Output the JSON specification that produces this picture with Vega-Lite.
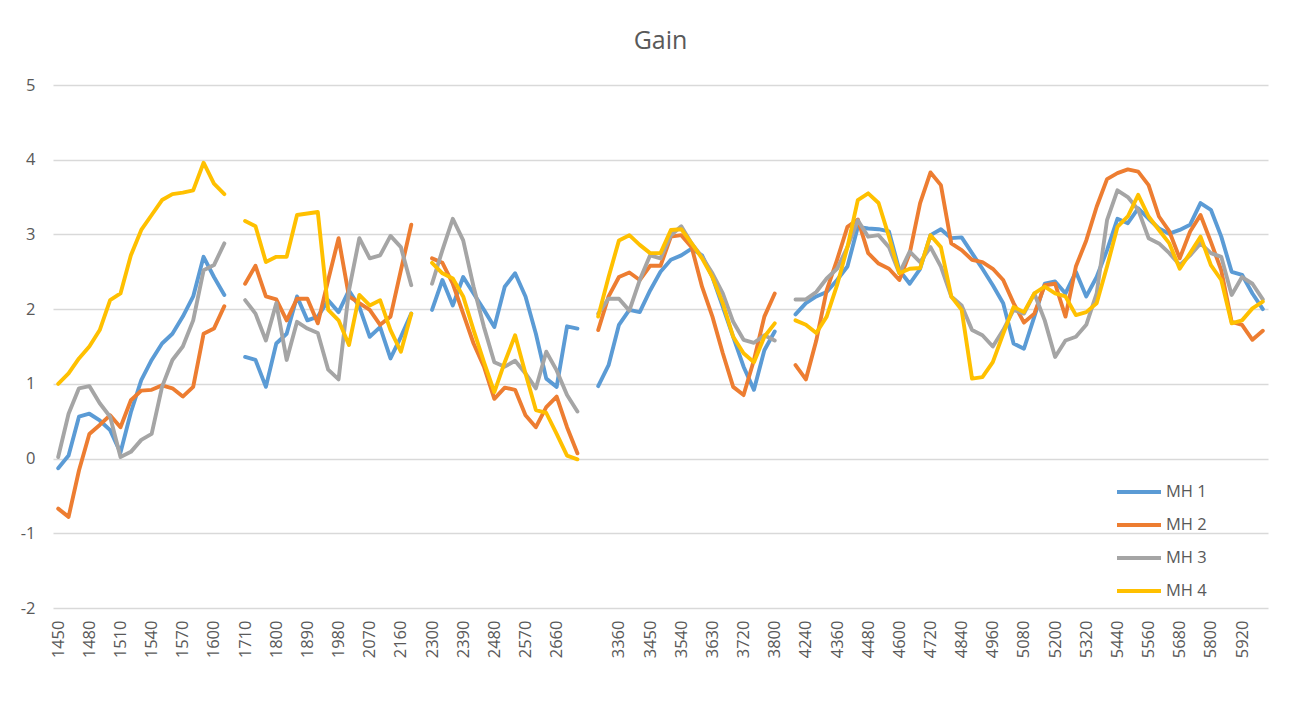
{
  "$schema": "https://vega.github.io/schema/vega-lite/v6.json",
  "width": 1215,
  "height": 523,
  "autosize": {"type": "none"},
  "padding": {"left": 53, "top": 85, "right": 25, "bottom": 114},
  "background": "white",
  "title": {"text": "Gain", "font": "Open Sans", "fontSize": 25, "fontWeight": "normal", "color": "#595959", "anchor": "middle", "frame": "group", "baseline": "alphabetic", "offset": 3},
  "data": {"values": [
    {"f":"1450","MH 1":-0.13,"MH 2":-0.67,"MH 3":0.02,"MH 4":1.00},
    {"f":"1460","MH 1":0.04,"MH 2":-0.78,"MH 3":0.60,"MH 4":1.14},
    {"f":"1470","MH 1":0.56,"MH 2":-0.16,"MH 3":0.94,"MH 4":1.34},
    {"f":"1480","MH 1":0.60,"MH 2":0.33,"MH 3":0.97,"MH 4":1.50},
    {"f":"1490","MH 1":0.51,"MH 2":0.45,"MH 3":0.74,"MH 4":1.72},
    {"f":"1500","MH 1":0.38,"MH 2":0.58,"MH 3":0.56,"MH 4":2.12},
    {"f":"1510","MH 1":0.08,"MH 2":0.42,"MH 3":0.02,"MH 4":2.21},
    {"f":"1520","MH 1":0.62,"MH 2":0.78,"MH 3":0.09,"MH 4":2.72},
    {"f":"1530","MH 1":1.05,"MH 2":0.91,"MH 3":0.25,"MH 4":3.06},
    {"f":"1540","MH 1":1.32,"MH 2":0.92,"MH 3":0.33,"MH 4":3.26},
    {"f":"1550","MH 1":1.54,"MH 2":0.98,"MH 3":0.96,"MH 4":3.46},
    {"f":"1560","MH 1":1.67,"MH 2":0.94,"MH 3":1.32,"MH 4":3.54},
    {"f":"1570","MH 1":1.90,"MH 2":0.83,"MH 3":1.50,"MH 4":3.56},
    {"f":"1580","MH 1":2.17,"MH 2":0.96,"MH 3":1.85,"MH 4":3.59},
    {"f":"1590","MH 1":2.70,"MH 2":1.67,"MH 3":2.52,"MH 4":3.96},
    {"f":"1600","MH 1":2.43,"MH 2":1.74,"MH 3":2.59,"MH 4":3.68},
    {"f":"1610","MH 1":2.19,"MH 2":2.04,"MH 3":2.88,"MH 4":3.54},
    {"f":"gap1","MH 1":null,"MH 2":null,"MH 3":null,"MH 4":null},
    {"f":"1710","MH 1":1.36,"MH 2":2.34,"MH 3":2.12,"MH 4":3.18},
    {"f":"1740","MH 1":1.32,"MH 2":2.58,"MH 3":1.94,"MH 4":3.11},
    {"f":"1770","MH 1":0.96,"MH 2":2.17,"MH 3":1.58,"MH 4":2.63},
    {"f":"1800","MH 1":1.54,"MH 2":2.13,"MH 3":2.08,"MH 4":2.70},
    {"f":"1830","MH 1":1.67,"MH 2":1.85,"MH 3":1.32,"MH 4":2.70},
    {"f":"1860","MH 1":2.17,"MH 2":2.14,"MH 3":1.83,"MH 4":3.26},
    {"f":"1890","MH 1":1.85,"MH 2":2.14,"MH 3":1.74,"MH 4":3.28},
    {"f":"1920","MH 1":1.90,"MH 2":1.81,"MH 3":1.68,"MH 4":3.30},
    {"f":"1950","MH 1":2.12,"MH 2":2.39,"MH 3":1.19,"MH 4":1.99},
    {"f":"1980","MH 1":1.96,"MH 2":2.95,"MH 3":1.06,"MH 4":1.85},
    {"f":"2010","MH 1":2.25,"MH 2":2.17,"MH 3":2.25,"MH 4":1.52},
    {"f":"2040","MH 1":2.03,"MH 2":2.08,"MH 3":2.95,"MH 4":2.19},
    {"f":"2070","MH 1":1.63,"MH 2":1.99,"MH 3":2.68,"MH 4":2.05},
    {"f":"2100","MH 1":1.76,"MH 2":1.79,"MH 3":2.72,"MH 4":2.12},
    {"f":"2130","MH 1":1.34,"MH 2":1.90,"MH 3":2.98,"MH 4":1.72},
    {"f":"2160","MH 1":1.63,"MH 2":2.52,"MH 3":2.83,"MH 4":1.43},
    {"f":"2190","MH 1":1.94,"MH 2":3.13,"MH 3":2.32,"MH 4":1.94},
    {"f":"gap2","MH 1":null,"MH 2":null,"MH 3":null,"MH 4":null},
    {"f":"2300","MH 1":1.99,"MH 2":2.68,"MH 3":2.34,"MH 4":2.62},
    {"f":"2330","MH 1":2.39,"MH 2":2.62,"MH 3":2.79,"MH 4":2.48},
    {"f":"2360","MH 1":2.05,"MH 2":2.34,"MH 3":3.21,"MH 4":2.41},
    {"f":"2390","MH 1":2.43,"MH 2":1.94,"MH 3":2.92,"MH 4":2.17},
    {"f":"2420","MH 1":2.21,"MH 2":1.54,"MH 3":2.30,"MH 4":1.72},
    {"f":"2450","MH 1":1.99,"MH 2":1.23,"MH 3":1.76,"MH 4":1.29},
    {"f":"2480","MH 1":1.76,"MH 2":0.80,"MH 3":1.29,"MH 4":0.89},
    {"f":"2510","MH 1":2.30,"MH 2":0.95,"MH 3":1.23,"MH 4":1.29},
    {"f":"2540","MH 1":2.48,"MH 2":0.92,"MH 3":1.31,"MH 4":1.65},
    {"f":"2570","MH 1":2.17,"MH 2":0.58,"MH 3":1.14,"MH 4":1.14},
    {"f":"2600","MH 1":1.67,"MH 2":0.42,"MH 3":0.94,"MH 4":0.65},
    {"f":"2630","MH 1":1.07,"MH 2":0.69,"MH 3":1.43,"MH 4":0.61},
    {"f":"2660","MH 1":0.96,"MH 2":0.83,"MH 3":1.18,"MH 4":0.33},
    {"f":"2690","MH 1":1.77,"MH 2":0.42,"MH 3":0.85,"MH 4":0.04},
    {"f":"2720","MH 1":1.74,"MH 2":0.07,"MH 3":0.63,"MH 4":-0.01},
    {"f":"gap3","MH 1":null,"MH 2":null,"MH 3":null,"MH 4":null},
    {"f":"3300","MH 1":0.97,"MH 2":1.72,"MH 3":1.94,"MH 4":1.90},
    {"f":"3330","MH 1":1.25,"MH 2":2.17,"MH 3":2.14,"MH 4":2.43},
    {"f":"3360","MH 1":1.79,"MH 2":2.43,"MH 3":2.14,"MH 4":2.92},
    {"f":"3390","MH 1":1.99,"MH 2":2.49,"MH 3":1.98,"MH 4":2.99},
    {"f":"3420","MH 1":1.96,"MH 2":2.39,"MH 3":2.39,"MH 4":2.86},
    {"f":"3450","MH 1":2.25,"MH 2":2.58,"MH 3":2.72,"MH 4":2.75},
    {"f":"3480","MH 1":2.50,"MH 2":2.58,"MH 3":2.68,"MH 4":2.75},
    {"f":"3510","MH 1":2.66,"MH 2":2.97,"MH 3":2.99,"MH 4":3.06},
    {"f":"3540","MH 1":2.72,"MH 2":2.99,"MH 3":3.11,"MH 4":3.07},
    {"f":"3570","MH 1":2.81,"MH 2":2.83,"MH 3":2.88,"MH 4":2.88},
    {"f":"3600","MH 1":2.72,"MH 2":2.30,"MH 3":2.70,"MH 4":2.68},
    {"f":"3630","MH 1":2.43,"MH 2":1.90,"MH 3":2.48,"MH 4":2.43},
    {"f":"3660","MH 1":2.03,"MH 2":1.41,"MH 3":2.21,"MH 4":2.08},
    {"f":"3690","MH 1":1.63,"MH 2":0.96,"MH 3":1.83,"MH 4":1.63},
    {"f":"3720","MH 1":1.23,"MH 2":0.85,"MH 3":1.59,"MH 4":1.41},
    {"f":"3740","MH 1":0.92,"MH 2":1.32,"MH 3":1.55,"MH 4":1.29},
    {"f":"3770","MH 1":1.45,"MH 2":1.90,"MH 3":1.65,"MH 4":1.63},
    {"f":"3800","MH 1":1.70,"MH 2":2.21,"MH 3":1.58,"MH 4":1.81},
    {"f":"gap4","MH 1":null,"MH 2":null,"MH 3":null,"MH 4":null},
    {"f":"4200","MH 1":1.93,"MH 2":1.25,"MH 3":2.13,"MH 4":1.85},
    {"f":"4240","MH 1":2.08,"MH 2":1.06,"MH 3":2.13,"MH 4":1.79},
    {"f":"4280","MH 1":2.17,"MH 2":1.58,"MH 3":2.23,"MH 4":1.68},
    {"f":"4320","MH 1":2.23,"MH 2":2.25,"MH 3":2.41,"MH 4":1.90},
    {"f":"4360","MH 1":2.39,"MH 2":2.66,"MH 3":2.54,"MH 4":2.32},
    {"f":"4400","MH 1":2.57,"MH 2":3.10,"MH 3":2.83,"MH 4":2.83},
    {"f":"4440","MH 1":3.10,"MH 2":3.20,"MH 3":3.19,"MH 4":3.46},
    {"f":"4480","MH 1":3.08,"MH 2":2.75,"MH 3":2.97,"MH 4":3.55},
    {"f":"4520","MH 1":3.07,"MH 2":2.61,"MH 3":2.99,"MH 4":3.42},
    {"f":"4560","MH 1":3.04,"MH 2":2.54,"MH 3":2.83,"MH 4":2.97},
    {"f":"4600","MH 1":2.52,"MH 2":2.39,"MH 3":2.48,"MH 4":2.48},
    {"f":"4640","MH 1":2.34,"MH 2":2.75,"MH 3":2.77,"MH 4":2.54},
    {"f":"4680","MH 1":2.54,"MH 2":3.42,"MH 3":2.63,"MH 4":2.55},
    {"f":"4720","MH 1":2.99,"MH 2":3.83,"MH 3":2.83,"MH 4":2.99},
    {"f":"4760","MH 1":3.07,"MH 2":3.66,"MH 3":2.57,"MH 4":2.83},
    {"f":"4800","MH 1":2.95,"MH 2":2.88,"MH 3":2.17,"MH 4":2.17},
    {"f":"4840","MH 1":2.96,"MH 2":2.79,"MH 3":2.05,"MH 4":1.99},
    {"f":"4880","MH 1":2.75,"MH 2":2.66,"MH 3":1.72,"MH 4":1.07},
    {"f":"4920","MH 1":2.54,"MH 2":2.63,"MH 3":1.65,"MH 4":1.09},
    {"f":"4960","MH 1":2.32,"MH 2":2.54,"MH 3":1.50,"MH 4":1.29},
    {"f":"5000","MH 1":2.08,"MH 2":2.39,"MH 3":1.72,"MH 4":1.67},
    {"f":"5040","MH 1":1.54,"MH 2":2.08,"MH 3":1.99,"MH 4":2.03},
    {"f":"5080","MH 1":1.47,"MH 2":1.82,"MH 3":1.94,"MH 4":1.96},
    {"f":"5120","MH 1":1.90,"MH 2":1.94,"MH 3":2.21,"MH 4":2.21},
    {"f":"5160","MH 1":2.34,"MH 2":2.32,"MH 3":1.85,"MH 4":2.30},
    {"f":"5200","MH 1":2.37,"MH 2":2.34,"MH 3":1.36,"MH 4":2.21},
    {"f":"5240","MH 1":2.21,"MH 2":1.90,"MH 3":1.58,"MH 4":2.17},
    {"f":"5280","MH 1":2.50,"MH 2":2.57,"MH 3":1.63,"MH 4":1.92},
    {"f":"5320","MH 1":2.17,"MH 2":2.92,"MH 3":1.79,"MH 4":1.96},
    {"f":"5360","MH 1":2.43,"MH 2":3.37,"MH 3":2.21,"MH 4":2.08},
    {"f":"5400","MH 1":2.79,"MH 2":3.74,"MH 3":3.19,"MH 4":2.57},
    {"f":"5440","MH 1":3.21,"MH 2":3.82,"MH 3":3.59,"MH 4":3.10},
    {"f":"5480","MH 1":3.15,"MH 2":3.87,"MH 3":3.50,"MH 4":3.24},
    {"f":"5520","MH 1":3.35,"MH 2":3.84,"MH 3":3.33,"MH 4":3.53},
    {"f":"5560","MH 1":3.21,"MH 2":3.66,"MH 3":2.95,"MH 4":3.24},
    {"f":"5600","MH 1":3.08,"MH 2":3.24,"MH 3":2.88,"MH 4":3.06},
    {"f":"5640","MH 1":3.01,"MH 2":3.04,"MH 3":2.75,"MH 4":2.88},
    {"f":"5680","MH 1":3.06,"MH 2":2.68,"MH 3":2.59,"MH 4":2.54},
    {"f":"5720","MH 1":3.13,"MH 2":3.04,"MH 3":2.72,"MH 4":2.75},
    {"f":"5760","MH 1":3.42,"MH 2":3.26,"MH 3":2.88,"MH 4":2.97},
    {"f":"5800","MH 1":3.33,"MH 2":2.90,"MH 3":2.75,"MH 4":2.59},
    {"f":"5840","MH 1":2.97,"MH 2":2.52,"MH 3":2.70,"MH 4":2.39},
    {"f":"5880","MH 1":2.50,"MH 2":1.83,"MH 3":2.19,"MH 4":1.81},
    {"f":"5920","MH 1":2.46,"MH 2":1.79,"MH 3":2.43,"MH 4":1.85},
    {"f":"5960","MH 1":2.21,"MH 2":1.59,"MH 3":2.34,"MH 4":2.01},
    {"f":"6000","MH 1":2.00,"MH 2":1.71,"MH 3":2.13,"MH 4":2.10}
  ]},
  "transform": [
    {"fold": ["MH 1", "MH 2", "MH 3", "MH 4"], "as": ["series", "gain"]}
  ],
  "mark": {"type": "line", "strokeWidth": 3.9, "strokeJoin": "round", "strokeCap": "round", "invalid": "break-paths-show-domains"},
  "encoding": {
    "x": {
      "field": "f", "type": "ordinal", "sort": null,
      "scale": {"type": "point", "padding": 0.5},
      "axis": {
        "title": null,
        "values": ["1450","1480","1510","1540","1570","1600","1710","1800","1890","1980","2070","2160","2300","2390","2480","2570","2660","3360","3450","3540","3630","3720","3800","4240","4360","4480","4600","4720","4840","4960","5080","5200","5320","5440","5560","5680","5800","5920"],
        "labelAngle": -90, "labelAlign": "right", "labelBaseline": "middle",
        "labelFont": "Open Sans", "labelFontSize": 16.5, "labelColor": "#595959",
        "labelPadding": 12, "ticks": false, "domain": false, "grid": false,
        "labelOverlap": false
      }
    },
    "y": {
      "field": "gain", "type": "quantitative",
      "scale": {"domain": [-2, 5], "nice": false, "zero": false},
      "axis": {
        "title": null, "values": [-2, -1, 0, 1, 2, 3, 4, 5],
        "labelExpr": "'' + datum.value",
        "labelFont": "Open Sans", "labelFontSize": 16.5, "labelColor": "#595959",
        "labelPadding": 18, "ticks": false, "domain": false,
        "grid": true, "gridColor": "#d9d9d9", "gridWidth": 1.3
      }
    },
    "color": {
      "field": "series", "type": "nominal",
      "scale": {"domain": ["MH 1", "MH 2", "MH 3", "MH 4"], "range": ["#5B9BD5", "#ED7D31", "#A5A5A5", "#FFC000"]},
      "legend": {
        "title": null, "orient": "none", "legendX": 1062, "legendY": 383,
        "direction": "vertical", "symbolType": "stroke", "symbolSize": 1936,
        "symbolStrokeWidth": 3.9, "labelFont": "Open Sans", "labelFontSize": 16.5,
        "labelColor": "#595959", "rowPadding": -11, "labelOffset": 3, "padding": 0
      }
    }
  },
  "config": {"view": {"stroke": null}, "font": "Open Sans"}
}
